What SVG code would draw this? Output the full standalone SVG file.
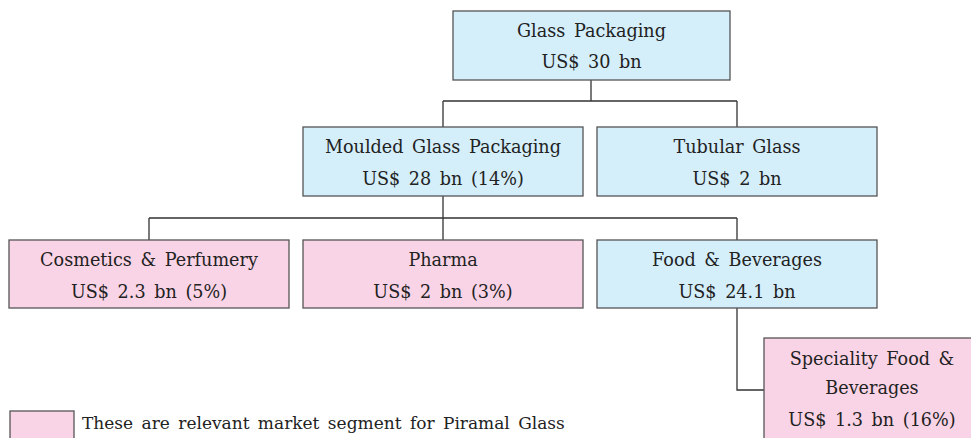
<svg xmlns="http://www.w3.org/2000/svg" width="971" height="438" viewBox="0 0 971 438">
<style>
.blue{fill:#d4eefa;stroke:#555;stroke-width:1.3}
.pink{fill:#f9d4e6;stroke:#555;stroke-width:1.3}
text{font-family:'DejaVu Serif',serif;font-size:17.6px;fill:#222;text-anchor:middle;word-spacing:3px}
.legend{font-size:17px;text-anchor:start}
.conn{fill:none;stroke:#333;stroke-width:1.3}
</style>
<rect width="971" height="438" fill="#fff"/>
<g id="connectors" class="conn">
<path d="M591 80V101M443 101H737M443 101V127M737 101V127"/>
<path d="M443 196V218M149 218H737M149 218V240M443 218V240M737 218V240"/>
<path d="M737 308V390H764"/>
</g>
<g id="glass-packaging">
<rect class="blue" x="453" y="11" width="277" height="69"/>
<text x="591.5" y="37">Glass Packaging</text>
<text x="591.5" y="68">US$ 30 bn</text>
</g>
<g id="moulded">
<rect class="blue" x="303" y="127" width="280" height="69"/>
<text x="443" y="153">Moulded Glass Packaging</text>
<text x="443" y="185">US$ 28 bn (14%)</text>
</g>
<g id="tubular">
<rect class="blue" x="597" y="127" width="280" height="69"/>
<text x="737" y="153">Tubular Glass</text>
<text x="737" y="185">US$ 2 bn</text>
</g>
<g id="cosmetics">
<rect class="pink" x="9" y="240" width="280" height="68"/>
<text x="149" y="266">Cosmetics &amp; Perfumery</text>
<text x="149" y="298">US$ 2.3 bn (5%)</text>
</g>
<g id="pharma">
<rect class="pink" x="303" y="240" width="280" height="68"/>
<text x="443" y="266">Pharma</text>
<text x="443" y="298">US$ 2 bn (3%)</text>
</g>
<g id="food-beverages">
<rect class="blue" x="597" y="240" width="280" height="68"/>
<text x="737" y="266">Food &amp; Beverages</text>
<text x="737" y="298">US$ 24.1 bn</text>
</g>
<g id="speciality">
<rect class="pink" x="764" y="338" width="216" height="110"/>
<text x="872" y="365">Speciality Food &amp;</text>
<text x="872" y="394">Beverages</text>
<text x="872" y="426">US$ 1.3 bn (16%)</text>
</g>
<g id="legend">
<rect class="pink" x="10" y="411" width="64" height="40"/>
<text class="legend" x="82" y="429">These are relevant market segment for Piramal Glass</text>
</g>
</svg>
